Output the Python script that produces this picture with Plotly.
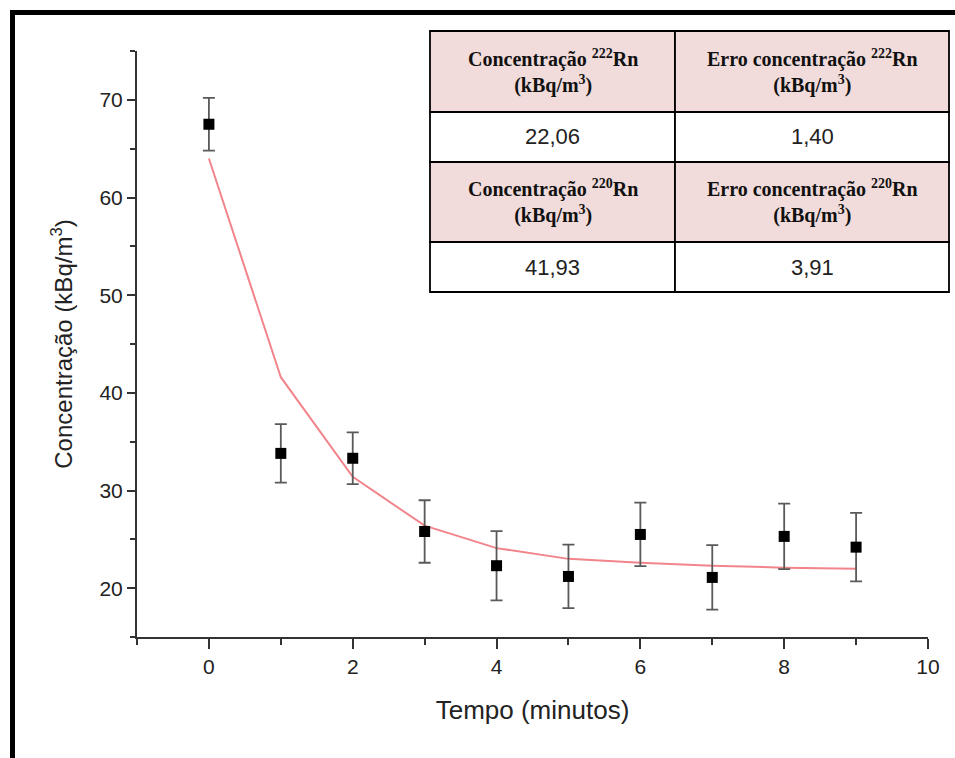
import plotly.graph_objects as go

# ---- data ----
tempo = [0, 1, 2, 3, 4, 5, 6, 7, 8, 9]
concentracao = [67.5, 33.8, 33.3, 25.8, 22.3, 21.2, 25.5, 21.1, 25.3, 24.2]
erro = [2.7, 3.0, 2.65, 3.2, 3.55, 3.25, 3.25, 3.3, 3.35, 3.5]
ajuste = [63.99, 41.6, 31.4, 26.4, 24.1, 23.0, 22.6, 22.3, 22.1, 22.0]

tab_headers = [
    ["Concentração <sup>222</sup>Rn<br>(kBq/m<sup>3</sup>)", "Erro concentração <sup>222</sup>Rn<br>(kBq/m<sup>3</sup>)"],
    ["Concentração <sup>220</sup>Rn<br>(kBq/m<sup>3</sup>)", "Erro concentração <sup>220</sup>Rn<br>(kBq/m<sup>3</sup>)"],
]
tab_values = [["22,06", "1,40"], ["41,93", "3,91"]]

W, H = 955, 758
ML, MR, MT, MB = 137, 27, 51, 121
PW, PH = W - ML - MR, H - MT - MB


def px(x):
    return (x - ML) / PW


def py(y):
    return (H - MB - y) / PH


fig = go.Figure()
fig.add_trace(go.Scatter(
    x=tempo, y=ajuste, mode="lines",
    line=dict(color="#f2848b", width=2), showlegend=False, hoverinfo="skip"))
fig.add_trace(go.Scatter(
    x=tempo, y=concentracao, mode="markers",
    marker=dict(symbol="square", size=11, color="black"),
    error_y=dict(type="data", array=erro, visible=True, color="#5a5a5a", thickness=1.8, width=6),
    showlegend=False))

shapes = []
# outer black frame (extends past the canvas on right/bottom)
shapes.append(dict(type="rect", xref="paper", yref="paper",
                   x0=px(12.5), x1=px(990), y0=py(12.5), y1=py(800),
                   line=dict(color="black", width=5), fillcolor="rgba(0,0,0,0)", layer="above"))

# table
col_x = [430, 675, 949]
row_y = [31, 112, 162, 242, 292]
header_fill = "#f2dcdb"
annotations = []
for r in range(4):
    for c in range(2):
        fill = header_fill if r % 2 == 0 else "white"
        shapes.append(dict(type="rect", xref="paper", yref="paper",
                           x0=px(col_x[c]), x1=px(col_x[c + 1]),
                           y0=py(row_y[r + 1]), y1=py(row_y[r]),
                           line=dict(color="black", width=1.8), fillcolor=fill, layer="above"))
        cx = (col_x[c] + col_x[c + 1]) / 2
        cy = (row_y[r] + row_y[r + 1]) / 2
        if r % 2 == 0:
            txt = "<b>" + tab_headers[r // 2][c] + "</b>"
            font = dict(family="Liberation Serif, Times New Roman, serif", size=20, color="#111")
        else:
            txt = tab_values[r // 2][c]
            font = dict(family="Liberation Sans, Arial, sans-serif", size=22, color="#222")
        annotations.append(dict(x=px(cx), y=py(cy), xref="paper", yref="paper",
                                text=txt, showarrow=False, font=font,
                                xanchor="center", yanchor="middle", align="center"))

fig.update_layout(
    width=W, height=H,
    margin=dict(l=ML, r=MR, t=MT, b=MB, pad=0),
    paper_bgcolor="white", plot_bgcolor="white",
    font=dict(family="Liberation Sans, Arial, sans-serif", color="#222"),
    shapes=shapes, annotations=annotations,
    xaxis=dict(range=[-1, 10], tick0=0, dtick=2, ticks="outside", ticklen=10, tickwidth=2,
               tickcolor="#333", showline=True, linecolor="#333", linewidth=2,
               showgrid=False, zeroline=False, tickfont=dict(size=21),
               minor=dict(dtick=1, tick0=0, ticks="outside", ticklen=6, tickwidth=2, tickcolor="#333"),
               title=dict(text="Tempo (minutos)", font=dict(size=26), standoff=24)),
    yaxis=dict(range=[15, 75], tick0=0, dtick=10, ticks="outside", ticklen=8, tickwidth=2,
               tickcolor="#333", showline=True, linecolor="#333", linewidth=2,
               showgrid=False, zeroline=False, tickfont=dict(size=21),
               minor=dict(dtick=5, tick0=0, ticks="outside", ticklen=5, tickwidth=2, tickcolor="#333"),
               title=dict(text="Concentração (kBq/m<sup>3</sup>)", font=dict(size=24), standoff=20)),
)

fig.write_html("out.html")
